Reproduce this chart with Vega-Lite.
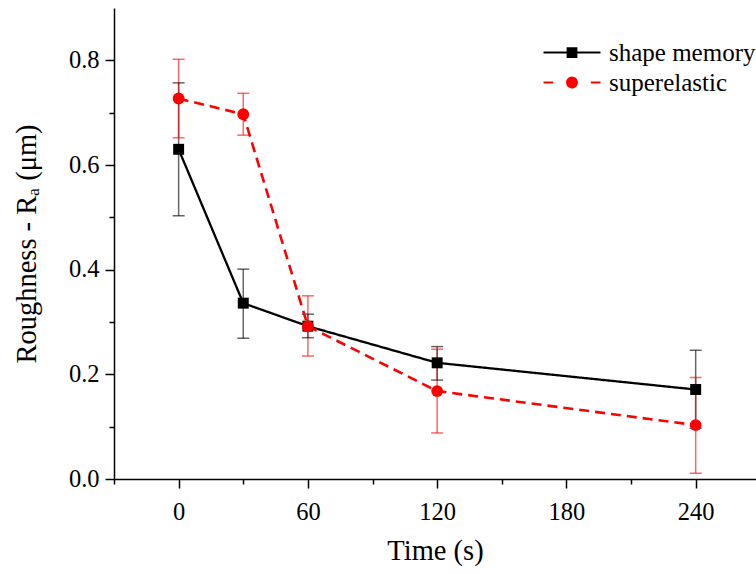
{
  "$schema": "https://vega.github.io/schema/vega-lite/v6.json",
  "width": 642,
  "height": 471,
  "autosize": {"type": "none"},
  "padding": {"left": 114, "top": 8, "right": 0, "bottom": 95},
  "background": "white",
  "config": {
    "view": {"stroke": null},
    "font": "Liberation Serif",
    "axis": {
      "domainColor": "black",
      "domainWidth": 1.5,
      "tickColor": "black",
      "tickWidth": 1.5,
      "labelColor": "black",
      "titleColor": "black",
      "labelFont": "Liberation Serif",
      "titleFont": "Liberation Serif",
      "labelFontSize": 24.5,
      "titleFontSize": 28.5,
      "titleFontWeight": "normal",
      "grid": false
    }
  },
  "data": {
    "values": [
      {"series": "shape memory", "t": 0, "ra": 0.630, "lo": 0.503, "hi": 0.757},
      {"series": "shape memory", "t": 30, "ra": 0.336, "lo": 0.269, "hi": 0.401},
      {"series": "shape memory", "t": 60, "ra": 0.292, "lo": 0.270, "hi": 0.315},
      {"series": "shape memory", "t": 120, "ra": 0.222, "lo": 0.189, "hi": 0.253},
      {"series": "shape memory", "t": 240, "ra": 0.171, "lo": 0.097, "hi": 0.246},
      {"series": "superelastic", "t": 0, "ra": 0.727, "lo": 0.652, "hi": 0.802},
      {"series": "superelastic", "t": 30, "ra": 0.697, "lo": 0.657, "hi": 0.737},
      {"series": "superelastic", "t": 60, "ra": 0.292, "lo": 0.235, "hi": 0.350},
      {"series": "superelastic", "t": 120, "ra": 0.168, "lo": 0.088, "hi": 0.248},
      {"series": "superelastic", "t": 240, "ra": 0.103, "lo": 0.011, "hi": 0.194}
    ]
  },
  "encoding": {
    "x": {
      "field": "t",
      "type": "quantitative",
      "scale": {"domain": [-30, 268], "nice": false, "zero": false},
      "axis": {
        "title": "Time (s)",
        "labelFont": "Liberation Serif",
        "titleFont": "Liberation Serif",
        "values": [-30, 0, 30, 60, 90, 120, 150, 180, 210, 240],
        "labelExpr": "datum.value % 60 === 0 ? datum.label : ''",
        "tickSize": {"condition": {"test": "datum.value % 60 === 0", "value": 9}, "value": 5},
        "labelPadding": 12,
        "titlePadding": 13
      }
    },
    "color": {
      "field": "series",
      "type": "nominal",
      "scale": {"domain": ["shape memory", "superelastic"], "range": ["black", "#ff0000"]},
      "legend": {
        "title": null,
        "orient": "none",
        "legendX": 428,
        "legendY": 32,
        "labelFontSize": 25,
        "labelFont": "Liberation Serif",
        "labelColor": "black",
        "labelOffset": 7,
        "rowPadding": 4,
        "clipHeight": 25,
        "symbolSize": 3249,
        "symbolStrokeWidth": 2,
        "encode": {
          "symbols": {
            "update": {
              "shape": {"signal": "datum.value === 'shape memory' ? 'M-1,0H1M-0.15,-0.15H0.15V0.15H-0.15Z' : 'M-1,0H-0.66M0.66,0H1M0.17,0A0.17,0.17,0,1,1,-0.17,0A0.17,0.17,0,1,1,0.17,0Z'"},
              "fill": {"signal": "datum.value === 'shape memory' ? 'black' : '#ff0000'"},
              "stroke": {"signal": "datum.value === 'shape memory' ? 'black' : '#ff0000'"},
              "strokeDash": {"value": [1, 0]},
              "opacity": {"value": 1},
              "fillOpacity": {"value": 1},
              "strokeWidth": {"value": 2.2}
            }
          }
        }
      }
    }
  },
  "layer": [
    {
      "mark": {"type": "rule", "strokeWidth": 1.5, "opacity": 0.6},
      "encoding": {
        "y": {"field": "lo", "type": "quantitative"},
        "y2": {"field": "hi"}
      }
    },
    {
      "mark": {"type": "tick", "orient": "horizontal", "size": 12, "thickness": 1.5, "opacity": 0.6},
      "encoding": {"y": {"field": "lo", "type": "quantitative"}}
    },
    {
      "mark": {"type": "tick", "orient": "horizontal", "size": 12, "thickness": 1.5, "opacity": 0.6},
      "encoding": {"y": {"field": "hi", "type": "quantitative"}}
    },
    {
      "mark": {"type": "line"},
      "encoding": {
        "y": {
          "field": "ra",
          "type": "quantitative",
          "scale": {"domain": [0, 0.9], "nice": false},
          "axis": {
            "title": "Roughness - Rₐ (μm)",
            "labelFont": "Liberation Serif",
            "titleFont": "Liberation Serif",
            "values": [0, 0.1, 0.2, 0.3, 0.4, 0.5, 0.6, 0.7, 0.8],
            "labelExpr": "round(datum.value * 10) % 2 === 0 ? format(datum.value, '.1f') : ''",
            "tickSize": {"condition": {"test": "round(datum.value * 10) % 2 === 0", "value": 9}, "value": 5},
            "labelPadding": 6,
            "titlePadding": 27
          }
        },
        "strokeDash": {
          "condition": {"test": "datum.series === 'superelastic'", "value": [10, 6]},
          "value": [1, 0]
        },
        "strokeWidth": {
          "condition": {"test": "datum.series === 'superelastic'", "value": 2.6},
          "value": 2.3
        }
      }
    },
    {
      "mark": {"type": "point", "filled": true, "opacity": 1},
      "encoding": {
        "y": {"field": "ra", "type": "quantitative"},
        "shape": {
          "condition": {"test": "datum.series === 'superelastic'", "value": "circle"},
          "value": "square"
        },
        "size": {"condition": {"test": "datum.series === 'superelastic'", "value": 140}, "value": 120}
      }
    }
  ]
}
